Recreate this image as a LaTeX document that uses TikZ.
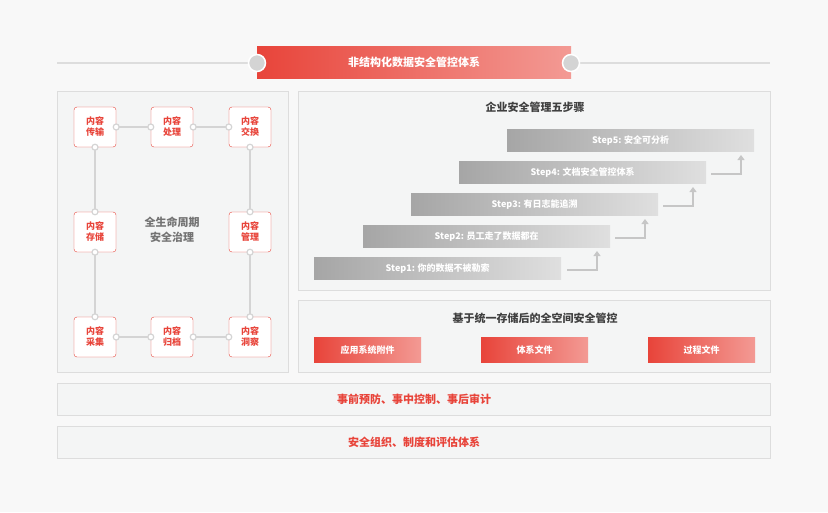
\documentclass[tikz,border=0pt]{standalone}
\usepackage{fontspec}
\setmainfont{Noto Sans CJK SC}
\usetikzlibrary{arrows.meta}
\definecolor{bg}{HTML}{F8F8F8}
\definecolor{panel}{HTML}{F4F5F5}
\definecolor{pline}{HTML}{DDDDDD}
\definecolor{myred}{HTML}{E8443A}
\definecolor{lred}{HTML}{F39A94}
\definecolor{conn}{HTML}{D4D4D4}
\tikzset{
 panelbox/.style={draw=pline,fill=panel,line width=0.8pt},
 lc/.style={draw=myred,fill=white,rounded corners=3pt,minimum width=42pt,minimum height=40pt,inner sep=0pt,align=center,text=myred,font=\fontsize{9}{11}\selectfont\bfseries},
 stepbox/.style={left color=gray!70,right color=gray!25,draw=none,minimum width=247pt,minimum height=22pt,inner sep=0pt,text=white,font=\fontsize{9}{11}\selectfont\bfseries,anchor=north west},
 redbox/.style={left color=myred,right color=lred,draw=none,minimum width=107pt,minimum height=25pt,inner sep=0pt,text=white,font=\fontsize{9}{11}\selectfont\bfseries,anchor=north west},
 cl/.style={conn,line width=2pt},
 dot/.style={circle,draw=conn,fill=white,line width=1.2pt,minimum size=6pt,inner sep=0pt},
 up/.style={draw=gray!45,line width=2pt,-{Triangle[length=5pt,width=7pt]}},
}
\begin{document}
\begin{tikzpicture}[x=1pt,y=-1pt]
\fill[bg] (0,0) rectangle (828,512);
\useasboundingbox (0,0) rectangle (828,512);
% top banner
\draw[pline,line width=1.5pt] (57,63) -- (770,63);
\node[left color=myred,right color=lred,minimum width=314pt,minimum height=32pt,inner sep=0pt,text=white,font=\fontsize{11}{13}\selectfont\bfseries] (title) at (414,62) {非结构化数据安全管控体系};
\node[circle,fill=pline!90!gray,draw=white,line width=1.5pt,minimum size=17pt] (c1) at (257,63) {};
\node[circle,fill=pline!90!gray,draw=white,line width=1.5pt,minimum size=17pt] (c2) at (571,63) {};
% left panel
\draw[panelbox] (57,91) rectangle (288,372);
\node[lc] (a) at (95,127) {内容\\传输};
\node[lc] (b) at (172,127) {内容\\处理};
\node[lc] (c) at (250,127) {内容\\交换};
\node[lc] (d) at (95,232) {内容\\存储};
\node[lc] (e) at (250,232) {内容\\管理};
\node[lc] (f) at (95,337) {内容\\采集};
\node[lc] (g) at (172,337) {内容\\归档};
\node[lc] (h) at (250,337) {内容\\洞察};
\foreach \p/\q in {a/b,b/c,f/g,g/h}{\draw[cl] (\p.east) -- (\q.west); \node[dot] at (\p.east){}; \node[dot] at (\q.west){};}
\foreach \p/\q in {a/d,d/f,c/e,e/h}{\draw[cl] (\p.south) -- (\q.north); \node[dot] at (\p.south){}; \node[dot] at (\q.north){};}
\node[align=center,text=gray!90!black,font=\fontsize{11}{15}\selectfont\bfseries] (center) at (172,230) {全生命周期\\安全治理};
% right top panel
\draw[panelbox] (298,91) rectangle (770,290);
\node[text=black!75,font=\fontsize{11}{13}\selectfont\bfseries] (t2) at (535,107) {企业安全管理五步骤};
\node[stepbox] (s5) at (507,129) {Step5: 安全可分析};
\node[stepbox] (s4) at (459,161) {Step4: 文档安全管控体系};
\node[stepbox] (s3) at (411,193) {Step3: 有日志能追溯};
\node[stepbox] (s2) at (363,225) {Step2: 员工走了数据都在};
\node[stepbox] (s1) at (314,257) {Step1: 你的数据不被勒索};
\foreach \i/\dx in {0/0,1/48,2/96,3/144}{
 \coordinate (p\i) at (567+\dx,270-32*\i);
 \coordinate (q\i) at (597+\dx,270-32*\i);
 \coordinate (r\i) at (597+\dx,251-32*\i);
 \draw[up] (p\i) -- (q\i) -- (r\i);}
% right bottom panel
\draw[panelbox] (298,300) rectangle (770,372);
\node[text=black!75,font=\fontsize{11}{13}\selectfont\bfseries] (t3) at (535,318) {基于统一存储后的全空间安全管控};
\node[redbox] (r1) at (314,337) {应用系统附件};
\node[redbox] (r2) at (481,337) {体系文件};
\node[redbox] (r3) at (648,337) {过程文件};
% bottom bars
\draw[panelbox] (57,383) rectangle (770,415);
\node[text=myred,font=\fontsize{11}{13}\selectfont\bfseries] (b1) at (414,399) {事前预防、事中控制、事后审计};
\draw[panelbox] (57,426) rectangle (770,458);
\node[text=myred,font=\fontsize{11}{13}\selectfont\bfseries] (b2) at (414,442) {安全组织、制度和评估体系};
\end{tikzpicture}
\end{document}
